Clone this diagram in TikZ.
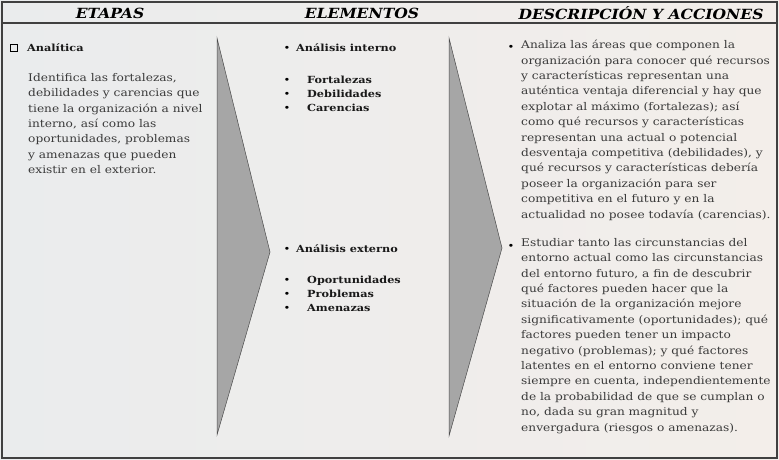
\documentclass[tikz,border=0pt]{standalone}
\usepackage{fontspec}
\setmainfont{DejaVu Serif}[FakeStretch=1.15]
\newfontfamily\hdrfont[FakeStretch=1.11]{DejaVu Serif}
\definecolor{fondoA}{RGB}{234,236,237}
\definecolor{fondoB}{RGB}{243,238,234}
\definecolor{cuna}{RGB}{166,166,166}
\definecolor{texto}{RGB}{58,58,58}
\tikzset{every node/.style={inner sep=0pt},
  hdr/.style={font=\hdrfont\bfseries\itshape\fontsize{14}{14}\selectfont},
  body/.style={anchor=north west, align=left, text=texto, font=\fontsize{10.6}{15.4}\selectfont},
  item/.style={anchor=base west, text=black!90, font=\bfseries\fontsize{9.8}{14}\selectfont},
  punto/.style={anchor=base, font=\fontsize{10}{10}\selectfont},
  wedge/.style={fill=cuna, draw=black!70, line width=0.5pt}}

\begin{document}
\begin{tikzpicture}[x=1pt,y=-1pt]
  \useasboundingbox (0,0) rectangle (779,460);
  \shade[left color=fondoA, right color=fondoB] (0,0) rectangle (779,460);
  \draw[line width=1.2pt, black!75] (2,2) rectangle (777,458);
  \draw[line width=1.2pt, black!75] (2,23) -- (777,23);
  \node[hdr] (etapas)    at (110,13) {ETAPAS};
  \node[hdr] (elementos) at (362,13) {ELEMENTOS};
  \node[hdr] (acciones)  at (641,13) {DESCRIPCIÓN Y ACCIONES};
  \draw[wedge] (217,38) -- (270,252) -- (217,435) -- cycle;
  \draw[wedge] (449,38) -- (502,248) -- (449,436) -- cycle;
  \node[draw, minimum size=7pt, line width=0.6pt] (caja) at (13.5,48) {};
  \node[item] (analitica) at (27,52) {Analítica};
  \node[body] (etapa) at (28,73) {Identifica las fortalezas,\\
    debilidades y carencias que\\
    tiene la organización a nivel\\
    interno, así como las\\
    oportunidades, problemas\\
    y amenazas que pueden\\
    existir en el exterior.};
  \node[punto] (pint) at (287,52) {•};
  \node[item] (aint) at (296,52) {Análisis interno};
  \foreach \t [count=\i] in {Fortalezas, Debilidades, Carencias}
    {\node[punto] at (287,69+14*\i) {•};
     \node[item] (int\i) at (307,69+14*\i) {\t};}
  \node[punto] (pext) at (287,252) {•};
  \node[item] (aext) at (296,252) {Análisis externo};
  \foreach \t [count=\i] in {Oportunidades, Problemas, Amenazas}
    {\node[punto] at (287,269+14*\i) {•};
     \node[item] (ext\i) at (307,269+14*\i) {\t};}
  \node[punto] (pdesc1) at (511,51) {•};
  \node[body] (desc1) at (521,40) {Analiza las áreas que componen la\\
    organización para conocer qué recursos\\
    y características representan una\\
    auténtica ventaja diferencial y hay que\\
    explotar al máximo (fortalezas); así\\
    como qué recursos y características\\
    representan una actual o potencial\\
    desventaja competitiva (debilidades), y\\
    qué recursos y características debería\\
    poseer la organización para ser\\
    competitiva en el futuro y en la\\
    actualidad no posee todavía (carencias).};
  \node[punto] (pdesc2) at (511,249) {•};
  \node[body] (desc2) at (521,238) {Estudiar tanto las circunstancias del\\
    entorno actual como las circunstancias\\
    del entorno futuro, a fin de descubrir\\
    qué factores pueden hacer que la\\
    situación de la organización mejore\\
    significativamente (oportunidades); qué\\
    factores pueden tener un impacto\\
    negativo (problemas); y qué factores\\
    latentes en el entorno conviene tener\\
    siempre en cuenta, independientemente\\
    de la probabilidad de que se cumplan o\\
    no, dada su gran magnitud y\\
    envergadura (riesgos o amenazas).};
\end{tikzpicture}
\end{document}
